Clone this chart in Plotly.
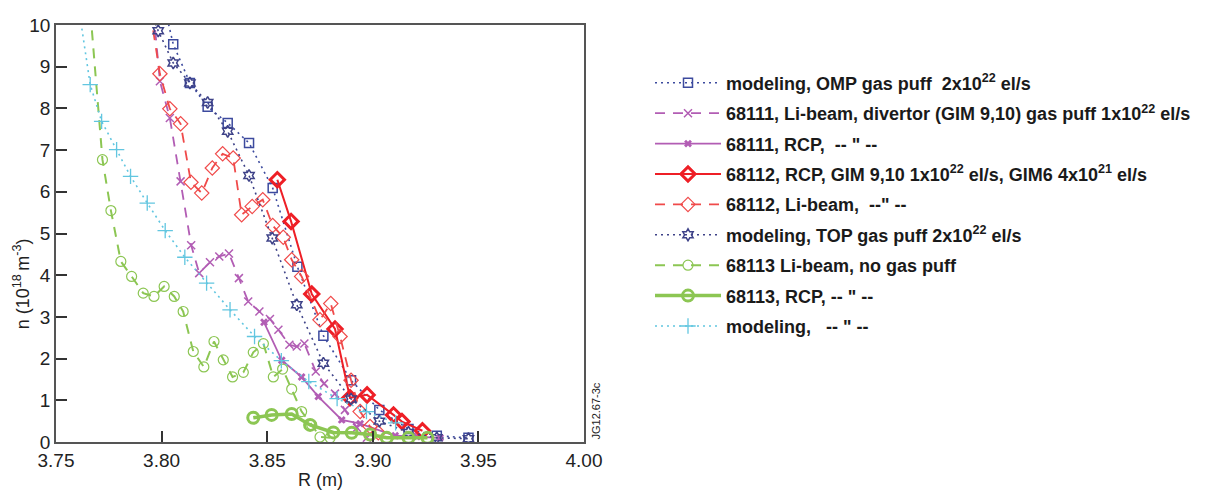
import plotly.graph_objects as go

# ---------------- data (R in m, n in 1e18 m^-3) ----------------
omp_R = [3.8020, 3.8055, 3.8134, 3.8218, 3.8313, 3.8414, 3.8526, 3.8643, 3.8766, 3.8897, 3.9031, 3.9169, 3.9303, 3.9453]
omp_n = [10.3, 9.54, 8.61, 8.04, 7.65, 7.17, 6.09, 4.20, 2.55, 1.48, 0.77, 0.31, 0.15, 0.10]

li111_R = [3.7962, 3.7992, 3.8039, 3.8090, 3.8140, 3.8178, 3.8229, 3.8273, 3.8319, 3.8366, 3.8410, 3.8463, 3.8513,
           3.8553, 3.8605, 3.8640, 3.8676, 3.8730, 3.8769, 3.8821, 3.8868, 3.8925, 3.8972]
li111_n = [10.3, 8.65, 7.77, 6.25, 4.72, 4.05, 4.31, 4.45, 4.52, 3.93, 3.37, 3.13, 2.95,
           2.69, 2.33, 2.29, 2.36, 1.69, 1.40, 1.16, 0.77, 0.34, 0.10]

rcp111_R = [3.8485, 3.8569, 3.8663, 3.8742, 3.8853, 3.8940, 3.9106, 3.9209, 3.9319]
rcp111_n = [2.87, 1.96, 1.56, 1.09, 0.53, 0.44, 0.15, 0.13, 0.10]

rcp112_R = [3.8548, 3.8613, 3.8711, 3.8821, 3.8892, 3.8973, 3.9098, 3.9138, 3.9235]
rcp112_n = [6.29, 5.29, 3.55, 2.71, 1.06, 1.13, 0.65, 0.49, 0.27]

li112_R = [3.7947, 3.7992, 3.8039, 3.8090, 3.8139, 3.8190, 3.8240, 3.8289, 3.8339, 3.8379, 3.8429, 3.8479,
           3.8526, 3.8576, 3.8616, 3.8663, 3.8750, 3.8801, 3.8845, 3.8897, 3.8940, 3.8987, 3.9026]
li112_n = [10.3, 8.83, 7.99, 7.63, 6.23, 5.97, 6.57, 6.91, 6.81, 5.45, 5.65, 5.81,
           5.19, 4.91, 4.37, 3.97, 2.93, 3.32, 2.53, 1.48, 0.73, 0.37, 0.22]

top_R = [3.7950, 3.7984, 3.8055, 3.8134, 3.8218, 3.8313, 3.8414, 3.8524, 3.8640, 3.8766, 3.8897, 3.9031, 3.9169, 3.9303, 3.9453]
top_n = [10.3, 9.86, 9.09, 8.61, 8.14, 7.45, 6.39, 4.89, 3.29, 1.89, 1.03, 0.50, 0.23, 0.10, 0.08]

li113_R = [3.7663, 3.7720, 3.7760, 3.7807, 3.7858, 3.7913, 3.7964, 3.8012, 3.8060, 3.8102, 3.8150, 3.8200,
           3.8248, 3.8292, 3.8336, 3.8387, 3.8434, 3.8482, 3.8529, 3.8573, 3.8616, 3.8663, 3.8711, 3.8750, 3.8798]
li113_n = [10.3, 6.77, 5.55, 4.33, 3.97, 3.57, 3.49, 3.73, 3.49, 3.13, 2.17, 1.80,
           2.41, 1.97, 1.56, 1.67, 2.15, 2.36, 1.56, 1.75, 1.27, 0.73, 0.41, 0.12, 0.10]

rcp113_R = [3.8434, 3.8521, 3.8616, 3.8703, 3.8813, 3.8900, 3.8987, 3.9066, 3.9169, 3.9259]
rcp113_n = [0.58, 0.65, 0.67, 0.41, 0.23, 0.22, 0.18, 0.10, 0.10, 0.10]

mod113_R = [3.7614, 3.7662, 3.7716, 3.7787, 3.7853, 3.7932, 3.8017, 3.8110, 3.8213, 3.8324, 3.8440, 3.8567,
            3.8697, 3.8831, 3.8970, 3.9108]
mod113_n = [10.2, 8.57, 7.69, 7.01, 6.37, 5.73, 5.07, 4.43, 3.81, 3.17, 2.53, 1.95,
            1.45, 1.04, 0.73, 0.46]

x_ticks = [3.75, 3.80, 3.85, 3.90, 3.95, 4.00]
x_labels = ["3.75", "3.80", "3.85", "3.90", "3.95", "4.00"]
y_ticks = list(range(0, 11))

names = [
    "<b>modeling, OMP gas puff  2x10<sup>22</sup> el/s</b>",
    "<b>68111, Li-beam, divertor (GIM 9,10) gas puff 1x10<sup>22</sup> el/s</b>",
    "<b>68111, RCP,  -- \" --</b>",
    "<b>68112, RCP, GIM 9,10 1x10<sup>22</sup> el/s, GIM6 4x10<sup>21</sup> el/s</b>",
    "<b>68112, Li-beam,  --\" --</b>",
    "<b>modeling, TOP gas puff 2x10<sup>22</sup> el/s</b>",
    "<b>68113 Li-beam, no gas puff</b>",
    "<b>68113, RCP, -- \" --</b>",
    "<b>modeling,   -- \" --</b>",
]

NAVY = "#3c4a9e"
NAVY2 = "#3e4288"
PURPLE = "#b25db4"
RED = "#ee1f26"
RED2 = "#f04a4a"
GREEN = "#8cc653"
CYAN = "#62c6e0"
FONT = "Liberation Sans, Arial"

fig = go.Figure()

def add(x, y, name, color, dash, width, symbol, msize, mwidth):
    fig.add_trace(go.Scatter(
        x=x, y=y, name=name, mode="lines+markers", legendgroup=name,
        line=dict(color=color, dash=dash, width=width),
        marker=dict(symbol=symbol, size=msize, color=color,
                    line=dict(color=color, width=mwidth)),
    ))

add(omp_R, omp_n, names[0], NAVY, "2px,4px", 1.6, "square-open", 9, 1.5)
add(li111_R, li111_n, names[1], PURPLE, "10px,8px", 1.8, "x-thin-open", 8, 1.5)
add(rcp111_R, rcp111_n, names[2], PURPLE, "solid", 1.8, "x", 7, 0)
add(rcp112_R, rcp112_n, names[3], RED, "solid", 2.0, "diamond-open", 11, 3)
add(li112_R, li112_n, names[4], RED2, "10px,8px", 1.8, "diamond-open", 11, 1.2)
add(top_R, top_n, names[5], NAVY2, "2px,4px", 1.6, "hexagram-open", 9, 1.5)
add(li113_R, li113_n, names[6], GREEN, "10px,8px", 2.0, "circle-open", 10, 1.2)
add(rcp113_R, rcp113_n, names[7], GREEN, "solid", 3.5, "circle-open", 11, 3)
add(mod113_R, mod113_n, names[8], CYAN, "2px,4px", 1.6, "cross-thin-open", 11, 1.3)

axis_common = dict(
    showgrid=False, zeroline=False, showline=True, linecolor="#555555", linewidth=1.5,
    mirror=True, ticks="inside", ticklen=11, tickwidth=1.5, tickcolor="#333333",
    tickfont=dict(family=FONT, size=19, color="#222222"),
)

fig.update_layout(
    width=1208, height=495,
    margin=dict(l=56, r=624, t=25, b=53),
    paper_bgcolor="white", plot_bgcolor="white",
    showlegend=True,
    legend=dict(
        x=1.125, y=0.905, xanchor="left", yanchor="top",
        font=dict(family=FONT, size=18, color="#1a1a1a"),
        traceorder="grouped", tracegroupgap=4, itemwidth=66,
        bgcolor="rgba(0,0,0,0)",
    ),
    xaxis=dict(range=[3.75, 4.00], tickvals=x_ticks, ticktext=x_labels, **axis_common),
    yaxis=dict(range=[0, 10], tickvals=y_ticks, **axis_common),
    annotations=[
        dict(text="R (m)", xref="paper", yref="paper", x=0.5, y=-0.062, yanchor="top",
             xanchor="center", showarrow=False, font=dict(family=FONT, size=18, color="#222222")),
        dict(text="n (10<sup>18 </sup>m<sup>-3</sup>)", xref="paper", yref="paper",
             x=-0.065, y=0.38, xanchor="center", yanchor="middle", textangle=-90, showarrow=False,
             font=dict(family=FONT, size=18, color="#222222")),
        dict(text="JG12.67-3c", xref="paper", yref="paper", x=1.0, y=0.0, xanchor="left",
             yanchor="bottom", xshift=3, textangle=-90, showarrow=False,
             font=dict(family=FONT, size=11, color="#222222")),
    ],
)

fig.write_html("out.html")
